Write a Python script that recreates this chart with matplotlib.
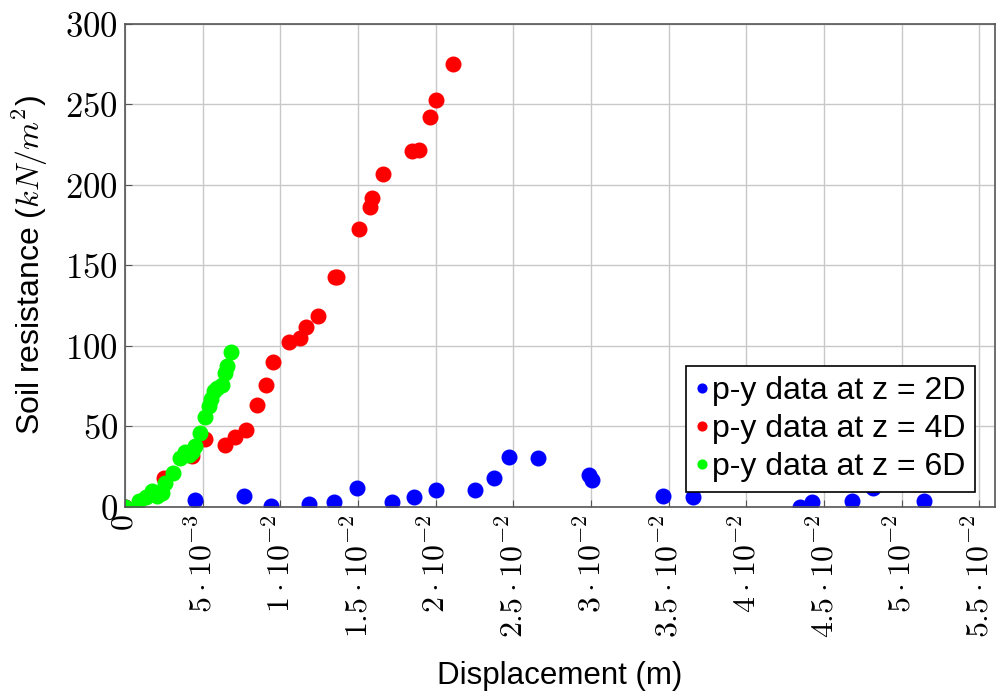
import matplotlib
matplotlib.use("Agg")
import matplotlib.pyplot as plt

plt.rcParams['font.family'] = ['Liberation Sans', 'DejaVu Sans']
plt.rcParams['mathtext.fontset'] = 'cm'

# p-y data at z = 2D
x_2d = [0.0, 0.00453, 0.00764, 0.00941, 0.01186, 0.01345, 0.01493, 0.01720,
        0.01861, 0.02005, 0.02251, 0.02374, 0.02470, 0.02661, 0.02989, 0.03004,
        0.03461, 0.03653, 0.04343, 0.04419, 0.04678, 0.04815, 0.05141]
y_2d = [0.0, 4.2, 7.0, 0.6, 2.0, 3.3, 11.6, 3.1,
        6.2, 10.6, 10.8, 18.2, 30.9, 30.7, 19.9, 16.8,
        6.8, 6.4, 0.2, 3.3, 3.7, 11.8, 3.7]

# p-y data at z = 4D
x_4d = [0.0, 0.00249, 0.00431, 0.00513, 0.00641, 0.00710, 0.00776, 0.00850,
        0.00907, 0.00954, 0.01055, 0.01124, 0.01162, 0.01242, 0.01350, 0.01362,
        0.01509, 0.01574, 0.01593, 0.01662, 0.01848, 0.01893, 0.01964, 0.02005,
        0.02112]
y_4d = [0.0, 17.9, 31.7, 42.3, 38.8, 43.4, 47.9, 63.5,
        75.5, 89.8, 102.7, 104.7, 111.8, 118.7, 143.1, 143.1,
        172.6, 186.3, 191.8, 206.6, 221.3, 222.0, 242.5, 252.6,
        274.9]

# p-y data at z = 6D
x_6d = [0.0, 0.000926, 0.00138, 0.00174, 0.00206, 0.00239, 0.00260, 0.00307,
        0.00356, 0.00388, 0.00410, 0.00431, 0.00453, 0.00485, 0.00517, 0.00543,
        0.00556, 0.00575, 0.00592, 0.00624, 0.00641, 0.00657, 0.00682]
y_6d = [0.0, 3.9, 6.4, 10.0, 7.0, 8.9, 15.1, 21.3,
        30.3, 34.4, 32.4, 34.4, 38.1, 45.9, 55.8, 63.0,
        67.2, 71.8, 73.9, 75.9, 83.2, 87.7, 96.0]

x_ticks = [0, 0.005, 0.01, 0.015, 0.02, 0.025, 0.03, 0.035, 0.04, 0.045, 0.05, 0.055]
x_ticklabels = [r'$0$', r'$5\cdot10^{-3}$', r'$1\cdot10^{-2}$', r'$1.5\cdot10^{-2}$',
                r'$2\cdot10^{-2}$', r'$2.5\cdot10^{-2}$', r'$3\cdot10^{-2}$',
                r'$3.5\cdot10^{-2}$', r'$4\cdot10^{-2}$', r'$4.5\cdot10^{-2}$',
                r'$5\cdot10^{-2}$', r'$5.5\cdot10^{-2}$']
y_ticks = [0, 50, 100, 150, 200, 250, 300]

fig = plt.figure(figsize=(9.96, 6.93), dpi=100)
ax = fig.add_axes([0.1255, 0.2684, 0.8735, 0.697])

ax.plot(x_2d, y_2d, 'o', color='#0000ff', markersize=10.5, label='p-y data at z = 2D')
ax.plot(x_4d, y_4d, 'o', color='#ff0000', markersize=10.5, label='p-y data at z = 4D')
ax.plot(x_6d, y_6d, 'o', color='#00ff00', markersize=10.5, label='p-y data at z = 6D')

ax.set_xlim(0, 0.056)
ax.set_ylim(0, 300)
ax.set_xticks(x_ticks)
ax.set_xticklabels(x_ticklabels, rotation=90, fontsize=23)
ax.set_yticks(y_ticks)
ax.set_yticklabels([r'$%d$' % v for v in y_ticks], fontsize=25)
ax.tick_params(direction='in', length=5, color='#555555', pad=5)

ax.grid(True, color='#c8c8c8', linewidth=1)
ax.set_axisbelow(True)
for s in ax.spines.values():
    s.set_color('#555555')
    s.set_linewidth(1.2)

ax.set_xlabel('Displacement (m)', fontsize=22.5)
ax.xaxis.set_label_coords(0.5, -0.318)
ax.set_ylabel(r'Soil resistance ($kN/m^2$)', fontsize=23, labelpad=11)

leg = ax.legend(loc='lower right', bbox_to_anchor=(0.977, 0.032), fontsize=23,
                markerscale=0.6, handlelength=0.4, handletextpad=0.1,
                borderpad=0.3, labelspacing=0.25, fancybox=False, framealpha=1,
                edgecolor='black', borderaxespad=0)
leg.get_frame().set_linewidth(1.2)

fig.savefig('out.png', dpi=100)
